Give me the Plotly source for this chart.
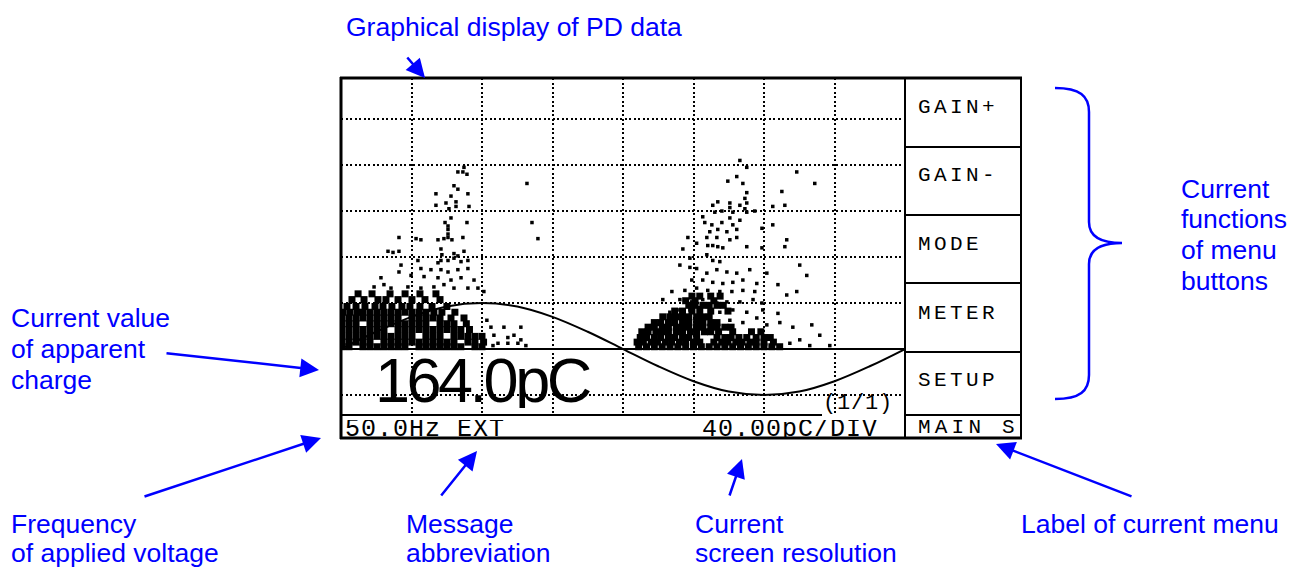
import plotly.graph_objects as go

W, H = 1298, 568

# ---------------- data ----------------
# reference voltage waveform (charge units, 40 pC = 1 div), phase in degrees
wave_phase = [0, 22.5, 45, 67.5, 90, 112.5, 135, 157.5, 180, 202.5, 225, 247.5, 270, 292.5, 315, 337.5, 360]
wave_charge = [0, 15, 28, 37, 40, 37, 28, 15, 0, -15, -28, -37, -40, -37, -28, -15, 0]

# positive half-cycle PD pulses (sparse)
pos_phase = [74.6, 77.8, 80.4, 78.5, 118.7, 74.6, 72.1, 60.6, 70.2, 81.0, 67.0, 73.4, 73.4, 60.6, 81.7, 68.9,
             70.2, 66.4, 68.3, 68.3, 68.3, 68.3, 80.4, 37.0, 47.9, 51.0, 61.9, 65.7, 70.8, 77.8, 30.0, 33.2,
             37.0, 63.8, 64.4, 72.1, 78.5, 74.6, 121.9, 125.7,
             63.8, 61.9, 68.3, 72.1, 76.6, 81.0, 49.1, 51.0, 57.4, 63.8, 68.3, 74.6, 81.0, 38.3, 37.0, 44.7,
             53.0, 61.9, 70.2, 76.6, 84.9, 25.5, 27.4, 21.1, 31.9, 42.7, 51.0, 59.3, 65.7, 72.1, 81.0, 87.4, 91.2,
             95.7, 97.6, 104.0, 106.5, 110.4, 114.8, 114.8, 100.2, 106.5, 112.9, 118.0, 93.1, 97.0]
pos_charge = [154, 154, 152, 158, 144, 139, 142, 135, 133, 135, 127, 128, 124, 125, 124, 122,
              114, 110, 107, 104, 100, 97, 110, 97, 96, 95, 95, 96, 95, 97, 85, 84,
              85, 87, 82, 83, 85, 81, 110, 96,
              77, 75, 77, 79, 76, 77, 77, 70, 69, 69, 67, 69, 70, 73, 67, 64,
              63, 62, 60, 62, 60, 62, 56, 54, 53, 54, 53, 54, 56, 53, 53, 53, 50,
              19, 12, 19, 10, 12, 19, 8, 5, 5, 5, 3, 25, 3]

# positive half-cycle PD pulses (dense band), charge level -> phases
pos_dense_levels = [48, 43, 37, 32, 27, 22, 17, 11, 6, 2]
pos_dense_phases = [
    [10.9, 19.8, 31.3, 40.9, 50.4, 60.6],
    [7.0, 14.7, 23.6, 28.7, 36.4, 45.3, 53.6, 63.2],
    [3.8, 9.6, 15.3, 21.7, 26.8, 32.5, 38.9, 44.0, 50.4, 58.1, 67.6],
    [1.3, 5.7, 10.2, 14.0, 18.5, 23.0, 27.4, 31.9, 36.4, 40.8, 45.3, 49.8, 54.2, 59.3, 64.4, 72.7],
    [0.6, 5.1, 9.6, 14.0, 18.5, 23.0, 27.4, 31.9, 36.4, 45.3, 49.8, 54.2, 58.7, 63.2, 70.2, 78.5],
    [0.6, 5.1, 9.6, 18.5, 23.0, 27.4, 31.9, 36.4, 40.8, 45.3, 49.8, 54.2, 63.2, 67.6, 72.1, 80.0],
    [0.6, 5.1, 9.6, 14.0, 18.5, 23.0, 27.4, 36.4, 40.8, 45.3, 49.8, 54.2, 58.7, 63.2, 67.6, 72.1, 76.5, 82.0],
    [0.6, 5.1, 9.6, 14.0, 18.5, 23.0, 27.4, 31.9, 36.4, 40.8, 45.3, 54.2, 58.7, 63.2, 72.1, 76.5, 81.0, 85.5, 90.0],
    [0.6, 5.1, 9.6, 14.0, 18.5, 27.4, 31.9, 36.4, 40.8, 45.3, 49.8, 54.2, 58.7, 63.2, 67.6, 72.1, 81.0, 85.5, 91.0],
    [0.6, 5.1, 14.0, 18.5, 23.0, 27.4, 31.9, 36.4, 40.8, 49.8, 54.2, 58.7, 63.2, 67.6, 72.1, 76.5, 85.5, 90.0],
]

# negative half-cycle PD pulses (sparse)
neg_phase = [254.6, 259.0, 290.9, 252.6, 246.9, 256.5, 302.4, 259.0, 281.4, 257.8, 240.5, 237.3, 248.2, 254.6,
             259.0, 257.8, 248.2, 275.6, 283.3, 238.6, 243.1, 250.1, 259.0, 264.1, 230.9, 248.2, 254.6, 232.2,
             236.7, 243.1, 250.1, 268.7, 275.6, 235.4, 240.5, 246.3, 252.6, 221.4, 233.5, 239.9, 248.2, 252.6,
             284.5, 227.0, 234.1, 240.5, 237.3, 243.7, 218.2, 259.0, 268.7, 283.3,
             237.3, 241.8, 233.5, 222.7, 216.3, 222.7, 227.0, 233.5, 239.9, 246.3, 252.6, 260.9, 271.8, 292.8,
             297.3, 223.9, 230.9, 237.3, 243.7, 250.1, 256.5, 265.4, 278.9, 290.9, 211.2, 219.5, 227.0, 234.1,
             241.8, 249.5, 256.5, 264.1, 284.5, 205.4, 216.3, 223.9, 230.9, 239.9, 246.3, 254.6, 263.0, 268.7,
             209.9, 216.3, 222.7, 229.0, 235.4, 241.8, 250.1, 259.0, 269.2, 278.9, 248.2, 256.5, 265.4, 271.8,
             280.1, 288.4, 300.5, 305.6, 312.0, 292.8, 286.5, 299.2]
neg_charge = [164, 158, 154, 150, 146, 144, 144, 136, 137, 131, 128, 125, 127, 125,
              127, 122, 123, 124, 125, 119, 120, 119, 119, 120, 115, 114, 112, 110,
              108, 110, 108, 105, 108, 102, 104, 102, 104, 97, 97, 97, 95, 97,
              95, 92, 90, 89, 90, 88, 87, 89, 88, 89,
              77, 76, 82, 79, 73, 71, 70, 66, 69, 67, 66, 69, 66, 73,
              64, 60, 60, 58, 57, 58, 60, 57, 56, 50, 50, 51, 53, 51,
              50, 50, 51, 50, 47, 43, 43, 41, 43, 40, 41, 41, 43, 40,
              32, 34, 34, 36, 34, 32, 34, 32, 34, 31, 25, 23, 27, 21,
              23, 19, 21, 12, 3, 8, 5, 3]

neg_dense_levels = [46, 42, 38, 33, 28, 23, 19, 15, 10, 6, 2]
neg_dense_phases = [
    [224, 229, 236, 242],
    [220, 226, 238],
    [222, 226, 231, 235, 240, 244],
    [213, 218, 224, 229, 236, 247],
    [205.4, 209.9, 214, 218, 222, 227, 231, 235],
    [200, 204, 209, 213, 218, 222, 227, 231, 236, 240],
    [196, 200, 205, 209, 214, 218, 222, 227, 231, 236, 240, 245, 249],
    [192, 196, 201, 205, 209, 214, 218, 223, 227, 232, 236, 241, 250, 262, 268],
    [191, 195, 200, 204, 209, 213, 218, 222, 227, 240, 245, 249, 254, 259, 265, 270, 274],
    [189, 193, 198, 202, 207, 211, 216, 220, 225, 229, 238, 243, 247, 252, 256, 261, 265, 270, 276],
    [190, 195, 200, 205, 210, 215, 220, 225, 230, 235, 240, 245, 250, 255, 260, 265, 270, 275, 280],
]

apparent_charge = "164.0pC"
menu_labels = ["GAIN+", "GAIN-", "MODE", "METER", "SETUP"]
menu_name = "MAIN S"
status_left = "50.0Hz EXT"
status_right = "40.00pC/DIV"
page_label = "(1/1)"

# ---------------- helpers ----------------
def fx(px):
    return px / W

def fy(py):
    return 1 - py / H

def flatten(levels, phase_rows):
    xs, ys = [], []
    for lvl, row in zip(levels, phase_rows):
        for p in row:
            xs.append(p)
            ys.append(lvl)
    return xs, ys

pdx, pdy = flatten(pos_dense_levels, pos_dense_phases)
ndx, ndy = flatten(neg_dense_levels, neg_dense_phases)

fig = go.Figure()
marker_dense = dict(symbol="square", size=7, color="black", line=dict(width=0))
marker_sparse = dict(symbol="square", size=3.5, color="black", line=dict(width=0))
fig.add_trace(go.Scatter(x=pdx + ndx, y=pdy + ndy, mode="markers", marker=marker_dense, hoverinfo="skip"))
fig.add_trace(go.Scatter(x=pos_phase + neg_phase, y=pos_charge + neg_charge, mode="markers",
                         marker=marker_sparse, hoverinfo="skip"))
fig.add_trace(go.Scatter(x=wave_phase, y=wave_charge, mode="lines", line=dict(color="black", width=2, shape="spline"),
                         hoverinfo="skip"))

BLUE = "rgb(0,0,255)"
ANN_FONT = dict(family="Liberation Sans, Arial, sans-serif", size=26.5, color=BLUE)
SCR_FONT = "Liberation Mono, DejaVu Sans Mono, monospace"

shapes = []
def hline(x0, x1, y, w=2):
    shapes.append(dict(type="line", xref="paper", yref="paper", x0=fx(x0), x1=fx(x1), y0=fy(y), y1=fy(y),
                       line=dict(color="black", width=w)))

def vline(x, y0, y1, w=2):
    shapes.append(dict(type="line", xref="paper", yref="paper", x0=fx(x), x1=fx(x), y0=fy(y0), y1=fy(y1),
                       line=dict(color="black", width=w)))

hline(340, 1022, 78, 3)
hline(340, 1022, 438, 3)
vline(341, 77, 439, 3)
vline(1021, 77, 439, 2)
vline(905, 78, 438, 2)
for yy in [147, 215, 283, 352, 415]:
    hline(905, 1021, yy, 2)
hline(341, 822, 415, 2)

# curly brace
pts = [("M", [(1055, 88)]), ("C", [(1080, 88), (1089, 96), (1089, 112)]), ("L", [(1089, 222)]),
       ("C", [(1089, 236), (1100, 243), (1122, 243)]), ("C", [(1100, 243), (1089, 250), (1089, 264)]),
       ("L", [(1089, 375)]), ("C", [(1089, 391), (1080, 399), (1055, 399)])]
path = " ".join(cmd + " " + " ".join(f"{fx(a):.5f},{fy(b):.5f}" for a, b in p) for cmd, p in pts)
shapes.append(dict(type="path", xref="paper", yref="paper", path=path, line=dict(color=BLUE, width=2.5)))

anns = []
def label(text, x, y, font=ANN_FONT, xanchor="left", height=None):
    a = dict(text=text, x=fx(x), y=fy(y), xref="paper", yref="paper", xanchor=xanchor,
             yanchor="middle", showarrow=False, font=font)
    if height is not None:
        a["height"] = height
        a["valign"] = "middle"
    anns.append(a)

def arrow(tail, tip):
    anns.append(dict(text="", x=fx(tip[0]), y=fy(tip[1]), xref="paper", yref="paper",
                     ax=tail[0] - tip[0], ay=tail[1] - tip[1], axref="pixel", ayref="pixel",
                     showarrow=True, arrowhead=2, arrowsize=1.5, arrowwidth=2.5, arrowcolor=BLUE, standoff=0))

label("Graphical display of PD data", 344, 27)
for t, yy in [("Current value", 318), ("of apparent", 349), ("charge", 380)]:
    label(t, 9, yy)
label("Frequency", 9, 524); label("of applied voltage", 9, 553)
label("Message", 404, 524); label("abbreviation", 404, 553)
label("Current", 693, 524); label("screen resolution", 693, 553)
label("Label of current menu", 1019, 524)
for t, yy in [("Current", 189), ("functions", 219), ("of menu", 250), ("buttons", 281)]:
    label(t, 1179, yy)

arrow((406, 56), (425, 78))
arrow((165, 353), (319, 370))
arrow((143, 497), (321, 438))
arrow((440, 497), (477, 451))
arrow((729, 497), (742, 459))
arrow((1133, 497), (996, 444))

def spaced(t, ls):
    return f'<span style="letter-spacing:{ls}px">{t}</span>'

menu_font = dict(family=SCR_FONT, size=21, color="black")
for t, yy in zip(menu_labels, [107, 175, 245, 313, 380]):
    label(spaced(t, 3.4), 916, yy, menu_font)
label(spaced(menu_name, 4.2), 916, 427, menu_font, height=21)
status_font = dict(family=SCR_FONT, size=25, color="black")
label(spaced(status_left, 1.0), 343, 429, status_font, height=18)
label(spaced(status_right, 1.0), 700, 429, status_font, height=18)
label(spaced(page_label, 0.8), 821, 403, dict(family=SCR_FONT, size=22, color="black"), height=26)
label(spaced(apparent_charge, -3.5), 373, 380,
      dict(family="Liberation Sans, Arial, sans-serif", size=63, color="black"), height=56)

grid = dict(showgrid=True, gridcolor="black", gridwidth=2, griddash="2px,2.5px", showticklabels=False,
            ticks="", showline=False, fixedrange=True)
fig.update_layout(
    width=W, height=H, margin=dict(l=0, r=0, t=0, b=0), paper_bgcolor="white", plot_bgcolor="white",
    showlegend=False, shapes=shapes, annotations=anns,
    xaxis=dict(domain=[fx(341), fx(905)], range=[0, 360], tick0=0, dtick=45, zeroline=False, **grid),
    yaxis=dict(domain=[fy(414), fy(78)], range=[-56.5, 235.7], tick0=0, dtick=40,
               zeroline=True, zerolinecolor="black", zerolinewidth=2, **grid),
)
fig.write_html("out.html")
